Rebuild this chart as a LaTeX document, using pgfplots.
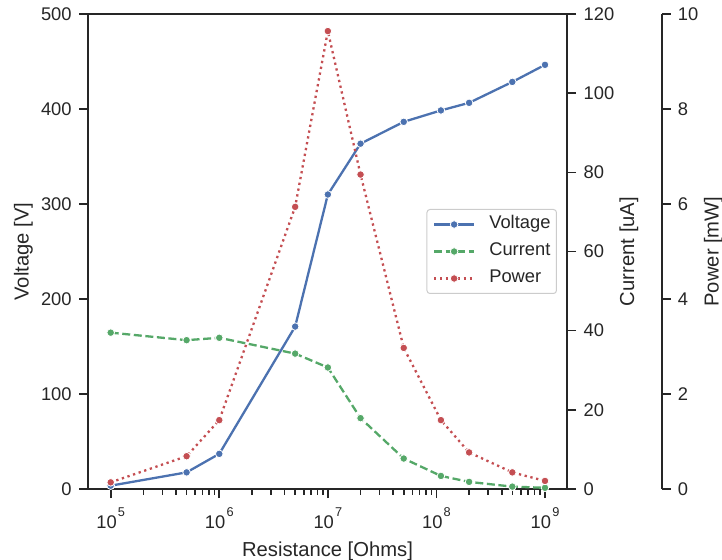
\documentclass[border=0pt]{standalone}
\usepackage{fontspec}
\setmainfont{Liberation Sans}
\usepackage{pgfplots}
\pgfplotsset{compat=1.18}
\definecolor{sbblue}{HTML}{4C72B0}
\definecolor{sbgreen}{HTML}{55A868}
\definecolor{sbred}{HTML}{C44E52}
\definecolor{txt}{HTML}{262626}
\definecolor{legedge}{HTML}{CCCCCC}

\tikzset{
  voltst/.style={sbblue, line width=2.3bp, mark=*, mark size=3.8bp,
    mark options={solid, fill=sbblue, draw=white, line width=0.8bp}},
  currst/.style={sbgreen, line width=2.3bp, dash pattern=on 8bp off 3.6bp, mark=*, mark size=3.8bp,
    mark options={solid, fill=sbgreen, draw=white, line width=0.8bp}},
  powrst/.style={sbred, line width=2.3bp, dash pattern=on 2.3bp off 3.6bp, mark=*, mark size=3.8bp,
    mark options={solid, fill=sbred, draw=white, line width=0.8bp}},
}
\newcommand{\tp}[1]{10\kern1.2bp\raisebox{12bp}{\fontsize{12.8}{13}\selectfont #1}}

\begin{document}
\begin{tikzpicture}
% Voltage axis
\begin{axis}[name=main,
  scale only axis, width=479bp, height=475bp, at={(0,0)}, anchor=south west,
  xmode=log, xmin=6.18e4, xmax=1.595e9, ymin=0,
  axis line style={txt, line width=1.9bp},
  tick style={txt, line width=1.6bp},
  major tick length=9bp, minor tick length=5.5bp,
  tick align=outside,
  ticklabel style={font=\fontsize{18.4}{22}\selectfont, text=txt},
  yticklabel style={inner sep=0pt, xshift=-7.2bp},
  xticklabel style={inner sep=0pt, yshift=-9.7bp},
  clip=false,
  ymax=500, ytick={0,100,200,300,400,500},
  xtick pos=left, ytick pos=left,
  xtick={1e5,1e6,1e7,1e8,1e9},
  xticklabels={\tp{5},\tp{6},\tp{7},\tp{8},\tp{9}},
  /pgf/number format/assume math mode=true,
]
\addplot[voltst] coordinates {
  (1e5,3.5) (5e5,17.5) (1e6,37) (5e6,171) (1e7,310) (2e7,363.5)
  (5e7,386.5) (1.1e8,398.5) (2e8,406.5) (5e8,428.5) (1e9,446.5)
};
\end{axis}
% Current axis
\begin{axis}[
  scale only axis, width=479bp, height=475bp, at={(0,0)}, anchor=south west,
  xmode=log, xmin=6.18e4, xmax=1.595e9, ymin=0,
  axis line style={txt, line width=1.9bp},
  tick style={txt, line width=1.6bp},
  major tick length=9bp, minor tick length=5.5bp,
  tick align=outside,
  ticklabel style={font=\fontsize{18.4}{22}\selectfont, text=txt},
  yticklabel style={inner sep=0pt, xshift=7.5bp},
  clip=false,
  hide x axis, axis y line*=right, ytick pos=right,
  ymax=120, ytick={0,20,40,60,80,100,120},
  /pgf/number format/assume math mode=true,
]
\addplot[currst] coordinates {
  (1e5,39.5) (5e5,37.6) (1e6,38.2) (5e6,34.2) (1e7,30.7) (2e7,17.9)
  (5e7,7.7) (1.1e8,3.3) (2e8,1.8) (5e8,0.6) (1e9,0.3)
};
\end{axis}
% Power axis
\begin{axis}[
  scale only axis, width=479bp, height=475bp, at={(0,0)}, anchor=south west,
  xmode=log, xmin=6.18e4, xmax=1.595e9, ymin=0,
  axis line style={txt, line width=1.9bp},
  tick style={txt, line width=1.6bp},
  major tick length=9bp, minor tick length=5.5bp,
  tick align=outside,
  ticklabel style={font=\fontsize{18.4}{22}\selectfont, text=txt},
  yticklabel style={inner sep=0pt, xshift=7bp},
  clip=false,
  hide x axis, axis y line*=right, ytick pos=right,
  axis y line shift=94.7bp,
  ymax=10, ytick={0,2,4,6,8,10},
  legend cell align=left,
  legend style={at={(rel axis cs:0.979,0.5)}, anchor=east, draw=legedge, line width=1bp,
    rounded corners=3bp, fill=white, text=txt,
    font=\fontsize{18.4}{22}\selectfont,
    inner xsep=6bp, inner ysep=6bp, row sep=9bp, column sep=14bp,
    nodes={inner sep=0pt, text height=13.5bp, text depth=4.5bp}},
  legend image code/.code={\draw[mark repeat=2,mark phase=2,#1] plot coordinates {(0bp,0bp)(20bp,0bp)(40bp,0bp)};},
  /pgf/number format/assume math mode=true,
]
\addlegendimage{voltst}
\addlegendentry{Voltage}
\addlegendimage{currst}
\addlegendentry{Current}
\addplot[powrst] coordinates {
  (1e5,0.14) (5e5,0.69) (1e6,1.45) (5e6,5.94) (1e7,9.64) (2e7,6.62)
  (5e7,2.97) (1.1e8,1.45) (2e8,0.77) (5e8,0.35) (1e9,0.17)
};
\addlegendentry{Power}
\end{axis}
\begin{scope}[every node/.style={font=\fontsize{20.3}{24}\selectfont, text=txt, inner sep=0pt}]
\node[rotate=90] at ([xshift=-64.6bp]main.west) {Voltage [V]};
\node at ([yshift=-62bp]main.south) {Resistance [Ohms]};
\node[rotate=90] at ([xshift=62bp]main.east) {Current [uA]};
\node[rotate=90] at ([xshift=146.4bp]main.east) {Power [mW]};
\end{scope}
\pgfresetboundingbox
\path (-88bp,-71bp) rectangle (634bp,489bp);
\end{tikzpicture}
\end{document}
